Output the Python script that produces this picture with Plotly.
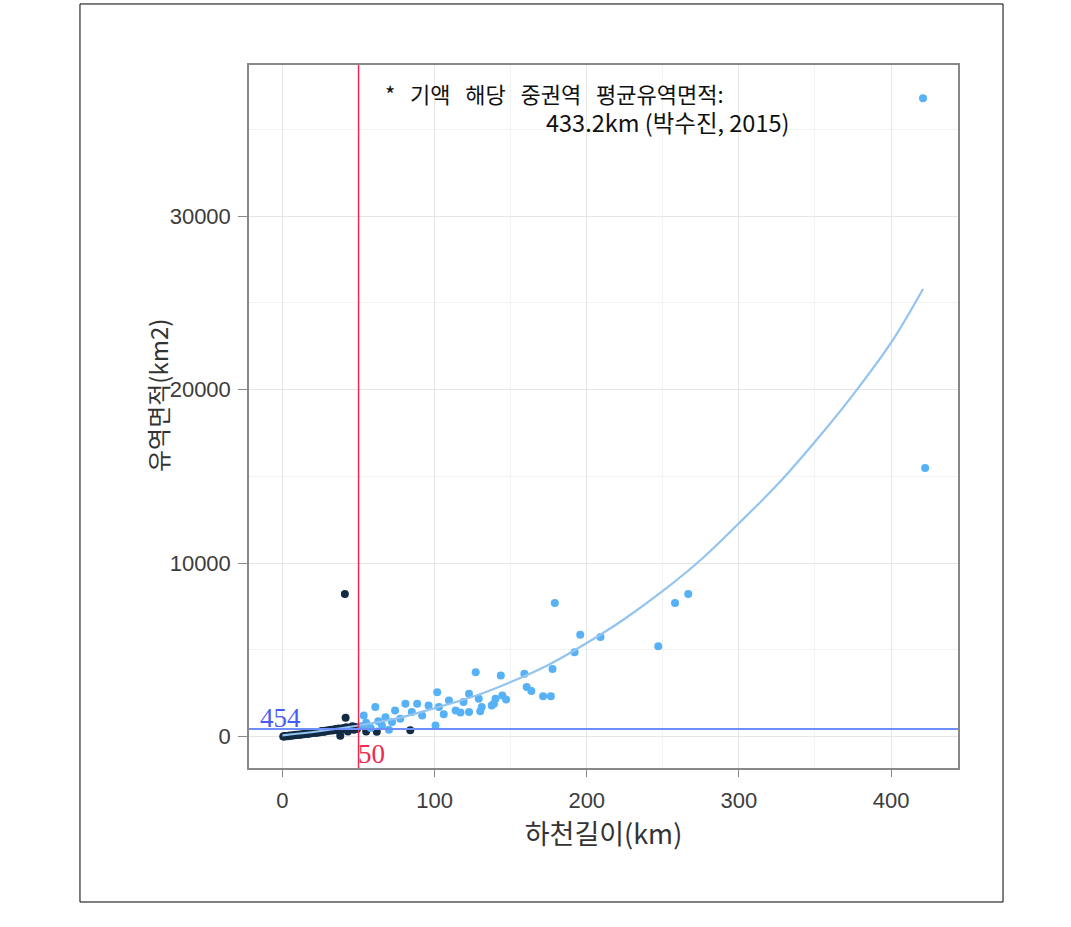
import plotly.graph_objects as go

# ---- data ----
dark_x = [0.5, 1, 1.5, 2, 3, 3.5, 4, 5, 6, 7, 8, 9, 10, 11, 12, 13, 14, 15, 16, 17, 18, 19, 20,
          21, 22, 23, 24, 25, 26, 27, 28, 29, 30, 31, 32, 33, 34, 35, 36, 37, 38, 39, 40, 41,
          41.5, 42, 43, 44, 45, 46, 47, 48, 49, 55, 62, 84]
dark_y = [20, 30, 15, 40, 50, 25, 60, 70, 55, 90, 80, 110, 100, 130, 120, 150, 140, 170, 190, 160,
          210, 200, 230, 260, 220, 280, 250, 300, 330, 270, 350, 310, 380, 340, 400, 360, 420, 450,
          380, 480, 60, 420, 500, 8230, 1100, 550, 300, 520, 470, 600, 400, 560, 450, 300, 290, 370]

light_x = [52, 53.4, 55, 58, 61, 63, 65.4, 67.7, 70, 72, 74, 77.4, 80.8, 85, 88.5, 91.8, 96, 100.6,
           101.7, 102.8, 106, 109.4, 113.8, 117, 119, 122.6, 122.6, 127, 129, 130, 131, 137.5, 139,
           140, 143.5, 144.5, 147, 159, 160.5, 163.6, 171.3, 176.4, 177.5, 179, 192, 195.7, 209,
           247, 258, 266.7, 421, 422.4]
light_y = [600, 1230, 800, 500, 1710, 900, 650, 1130, 400, 845, 1510, 1040, 1900, 1420, 1900, 1230,
           1800, 650, 2570, 1710, 1300, 2090, 1510, 1400, 2000, 1420, 2475, 3720, 2190, 1470, 1710,
           1800, 1900, 2190, 3530, 2380, 2150, 3630, 2860, 2630, 2340, 2340, 3910, 7700, 4870, 5870,
           5740, 5220, 7700, 8230, 36790, 15490]

fit_x = [0, 25, 50, 75, 100, 125, 150, 175, 200, 225, 250, 275, 300, 325, 350, 375, 400, 421]
fit_y = [80, 330, 650, 1050, 1650, 2300, 3150, 4150, 5400, 6800, 8400, 10200, 12300, 14500,
         17000, 19700, 22700, 25800]

vline_x = 50
hline_y = 454

x_ticks = [0, 100, 200, 300, 400]
y_ticks = [0, 10000, 20000, 30000]

x_title = "하천길이(km)"
y_title = "유역면적(km2)"
note_line1 = "* 기액 해당 중권역 평균유역면적:"
note_line2 = "433.2km (박수진, 2015)"

# ---- figure ----
fig = go.Figure()
fig.add_trace(go.Scatter(x=dark_x, y=dark_y, mode="markers",
                         marker=dict(color="#132B43", size=8), showlegend=False))
fig.add_trace(go.Scatter(x=light_x, y=light_y, mode="markers",
                         marker=dict(color="#56B1F7", size=8), showlegend=False))
fig.add_trace(go.Scatter(x=fit_x, y=fit_y, mode="lines", line_shape="spline",
                         line=dict(color="#93C4F0", width=2.2), showlegend=False))

fig.add_shape(type="line", xref="x", yref="paper", x0=vline_x, x1=vline_x, y0=0, y1=1,
              line=dict(color="#F0284F", width=1.5))
fig.add_shape(type="line", xref="paper", yref="y", x0=0, x1=1, y0=hline_y, y1=hline_y,
              line=dict(color="#6E8EFF", width=2))

# outer frame
fig.add_shape(type="rect", xref="paper", yref="paper", x0=-0.2384, x1=1.0635, y0=-0.1906, y1=1.0868,
              line=dict(color="black", width=1), fillcolor="rgba(0,0,0,0)", layer="below")

fig.add_annotation(x=-1.5, y=1080, xref="x", yref="y", text=str(hline_y), showarrow=False,
                   font=dict(family="Liberation Serif", size=27, color="#4A5CF0"))
fig.add_annotation(x=58.5, y=-1000, xref="x", yref="y", text=str(vline_x), showarrow=False,
                   font=dict(family="Liberation Serif", size=27, color="#F0284F"))

fig.add_annotation(x=(383 - 249) / 709, y=(768 - 93) / 703, xref="paper", yref="paper",
                   text=note_line1.replace(" ", "\u00a0\u00a0\u00a0"), showarrow=False,
                   xanchor="left", yanchor="middle",
                   font=dict(family="Noto Sans CJK KR", size=22, color="#111111"))
fig.add_annotation(x=(791 - 249) / 709, y=(768 - 122) / 703, xref="paper", yref="paper",
                   text=note_line2, showarrow=False, xanchor="right", yanchor="middle",
                   font=dict(family="Noto Sans CJK KR", size=23.5, color="#111111"))

# y-axis title placed as rotated text
fig.add_annotation(x=(157 - 249) / 709, y=(768 - 396) / 703, xref="paper", yref="paper",
                   text=y_title, showarrow=False, textangle=-90,
                   xanchor="center", yanchor="middle",
                   font=dict(family="Noto Sans CJK KR", size=24, color="#333333"))

tick_font = dict(family="Liberation Sans", size=22, color="#3C3C3C")
axis_common = dict(showline=True, linecolor="#888888", linewidth=1.5, mirror=True,
                   ticks="outside", tickcolor="#888888",
                   gridcolor="#E6E6E6", gridwidth=1, zeroline=False, tickfont=tick_font)

fig.update_xaxes(range=[-22, 444], tickvals=x_ticks, ticktext=[str(v) for v in x_ticks],
                 ticklen=7, ticklabelstandoff=5,
                 minor=dict(dtick=50, tick0=50, showgrid=True, gridcolor="#F3F3F3", ticks=""),
                 title=dict(text=x_title, font=dict(family="Noto Sans CJK KR", size=27,
                                                    color="#333333"), standoff=3),
                 **axis_common)
fig.update_yaxes(range=[-1800, 38700], tickvals=y_ticks, ticktext=[str(v) for v in y_ticks],
                 ticklen=9, ticklabelstandoff=3,
                 minor=dict(dtick=5000, tick0=5000, showgrid=True, gridcolor="#F3F3F3", ticks=""),
                 **axis_common)

fig.update_layout(width=1071, height=927, paper_bgcolor="white", plot_bgcolor="white",
                  margin=dict(l=249, r=113, t=65, b=159), showlegend=False)

fig.write_html("out.html")
